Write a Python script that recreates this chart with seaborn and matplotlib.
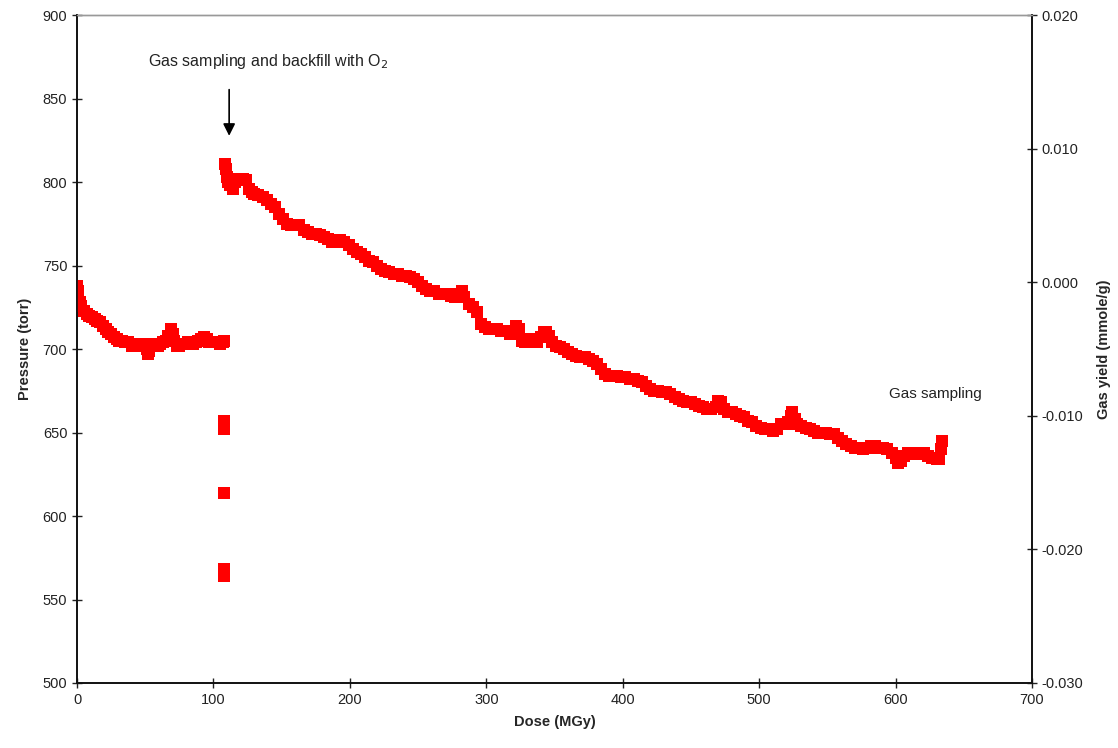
import numpy as np
import pandas as pd
import seaborn as sns
import matplotlib.pyplot as plt

# ============================================
# DATA
# ============================================

# first irradiation period (before gas sampling)
dose_a = [0, 0.5, 1, 2, 3, 5, 7, 9, 11, 13, 15, 17, 19, 21, 23, 25, 27, 29, 31, 33, 35, 37,
          40, 42, 44, 46, 48, 50, 51, 52, 53, 55, 57, 59, 61, 63, 65, 67, 69, 70, 71, 73,
          75, 77, 79, 81, 83, 85, 87, 89, 91, 93, 95, 97, 99, 101, 103, 105, 107, 108]
pres_a = [738, 735, 731, 728, 726, 723, 721, 720, 719, 718, 717, 716, 714, 712, 710, 709,
          707, 706, 705, 705, 704.5, 704.5,
          702, 703, 703, 702, 702, 703, 700, 697, 699, 703, 703, 702, 703, 704, 705, 708,
          712, 709, 705, 702, 702, 703, 703, 704, 703, 703, 704, 705, 706, 707, 706, 704,
          704, 704, 704, 703, 704, 705]

# readings during gas sampling
dose_s = [108, 108, 108, 108, 108]
pres_s = [657, 652, 614, 568, 564]

# after backfill with O2
dose_b = [108.5, 109, 110, 111, 112, 114, 116, 118, 120, 122, 124, 126, 128, 130, 133, 136,
          139, 142, 145, 148, 151, 154, 157, 160, 163, 166, 169, 172, 175, 178, 181, 184,
          187, 190, 193, 196, 199, 202, 205, 208, 211, 214, 217, 220, 223, 226, 229, 232,
          235, 238, 241, 244, 247, 250, 253, 256, 259, 262, 265, 268, 271, 274, 277, 280,
          282, 284, 287, 290, 293, 296, 299, 302, 305, 308, 311, 314, 317, 320, 322, 324,
          326, 328, 331, 334, 337, 340, 342, 344, 346, 348, 351, 354, 357, 360, 363, 366,
          369, 372, 375, 378, 381, 384, 387, 390, 393, 396, 399, 402, 405, 408, 411, 414,
          417, 420, 423, 426, 429, 432, 435, 438, 441, 444, 447, 450, 453, 456, 459, 462,
          465, 468, 470, 472, 474, 477, 480, 483, 486, 489, 492, 495, 498, 501, 504, 507,
          510, 513, 516, 519, 521, 523, 524, 526, 528, 531, 534, 537, 540, 543, 546, 549,
          552, 555, 558, 561, 564, 567, 570, 573, 576, 579, 582, 585, 588, 591, 594, 597,
          600, 602, 604, 606, 609, 612, 615, 618, 621, 624, 627, 630, 632, 633, 634]
pres_b = [811, 808, 803, 800, 798, 796, 800, 802, 802, 802, 801, 796, 794, 793, 792, 791,
          789, 787, 785, 781, 778, 775, 774, 774, 774, 771, 770, 769, 769, 768, 767, 766,
          764, 764, 765, 764, 762, 760, 758, 757, 755, 753, 752, 750, 748, 747, 746, 745,
          745, 744, 744, 743, 742, 740, 738, 736, 735, 735, 733, 733, 733, 732, 731, 733,
          735, 731, 727, 725, 722, 715, 713, 712, 712, 712, 711, 711, 709, 710, 714, 712,
          705, 704, 706, 706, 704, 707, 710, 710, 708, 704, 702, 701, 700, 698, 697, 696,
          695, 695, 694, 693, 691, 688, 685, 684, 684, 684, 683, 683, 682, 682, 681, 680,
          678, 676, 675, 675, 674, 674, 673, 671, 670, 669, 668, 668, 667, 666, 665, 664,
          664, 665, 669, 668, 664, 662, 662, 661, 660, 659, 657, 656, 654, 653, 652, 652,
          651, 652, 655, 655, 656, 660, 662, 658, 655, 654, 653, 652, 651, 650, 650, 650,
          649, 649, 647, 645, 643, 642, 641, 641, 640, 641, 642, 642, 641, 641, 640, 638,
          635, 632, 633, 636, 638, 637, 637, 638, 638, 636, 635, 634, 634, 640, 645]

left_ticks = [500, 550, 600, 650, 700, 750, 800, 850, 900]
right_ticks = [-0.030, -0.020, -0.010, 0.000, 0.010, 0.020]
x_ticks = [0, 100, 200, 300, 400, 500, 600, 700]

df = pd.DataFrame({
    'dose': dose_a + dose_s + dose_b,
    'pressure': pres_a + pres_s + pres_b,
})

# ============================================
# PLOT
# ============================================

sns.set_style("white")
plt.rcParams['font.family'] = ['Liberation Sans', 'DejaVu Sans']

fig = plt.figure(figsize=(11.18, 7.48), dpi=100)
ax = fig.add_axes([0.0689, 0.0869, 0.8542, 0.8930])

# navy series sitting underneath the red markers
sns.scatterplot(data=df, x='dose', y='pressure', ax=ax, marker='s', s=16,
                color='#000080', linewidth=0, zorder=2)
sns.scatterplot(data=df, x='dose', y='pressure', ax=ax, marker='s', s=72,
                color='#ff0000', linewidth=0, zorder=3)

ax.set_xlim(0, 700)
ax.set_ylim(500, 900)
ax.set_xticks(x_ticks)
ax.set_yticks(left_ticks)
ax.set_xlabel("Dose (MGy)", fontsize=10.5, fontweight='bold', labelpad=6)
ax.set_ylabel("Pressure (torr)", fontsize=10.5, fontweight='bold', labelpad=8)
ax.tick_params(direction='inout', length=7, width=1, labelsize=10.5,
               colors='#222222', left=True, bottom=True)

ax2 = ax.twinx()
ax2.set_ylim(-0.030, 0.020)
ax2.set_yticks(right_ticks)
ax2.set_yticklabels([f"{v:.3f}" for v in right_ticks])
ax2.set_ylabel("Gas yield (mmole/g)", fontsize=10.5, fontweight='bold', labelpad=10)
ax2.tick_params(direction='inout', length=7, width=1, labelsize=10.5,
                colors='#222222', right=True)

for a in (ax, ax2):
    for side in ['left', 'bottom', 'right']:
        a.spines[side].set_color('#111111')
        a.spines[side].set_linewidth(1.2)
    a.spines['top'].set_color('#999999')
    a.spines['top'].set_linewidth(1.0)

# annotations
ax.annotate("", xy=(111.5, 826), xytext=(111.5, 857),
            arrowprops=dict(arrowstyle='-|>', color='black', lw=1.2,
                            mutation_scale=18))
ax.text(52, 872, "Gas sampling and backfill with O$_2$", fontsize=11.5,
        ha='left', va='center', color='#222222')
ax.text(595, 673, "Gas sampling", fontsize=11, ha='left', va='center',
        color='#222222')

plt.savefig("out.png", dpi=100)
